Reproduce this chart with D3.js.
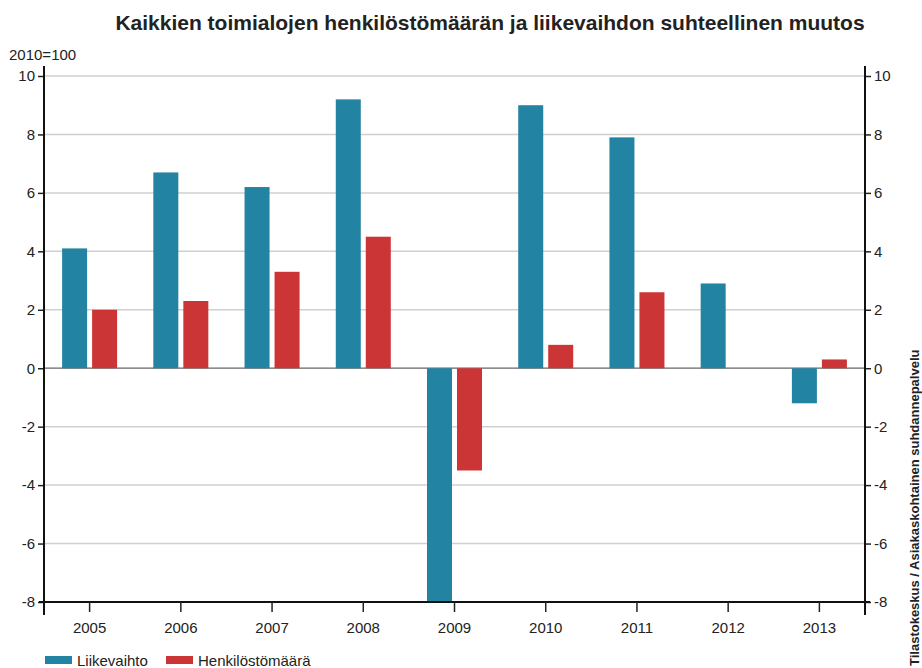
<!DOCTYPE html>
<html>
<head>
<meta charset="utf-8">
<script src="https://cdn.jsdelivr.net/npm/d3@7"></script>
<style>
  body { margin: 0; background: #fff; }
  text { font-family: "Liberation Sans", Arial, sans-serif; fill: #222; }
</style>
</head>
<body>
<div id="vis"></div>
<script>
// data
const years = ['2005', '2006', '2007', '2008', '2009', '2010', '2011', '2012', '2013'];
const liikevaihto = [4.1, 6.7, 6.2, 9.2, -8.0, 9.0, 7.9, 2.9, -1.2];
const henkilosto = [2.0, 2.3, 3.3, 4.5, -3.5, 0.8, 2.6, 0.0, 0.3];
const seriesNames = ['Liikevaihto', 'Henkilöstömäärä'];
const yTicks = [-8, -6, -4, -2, 0, 2, 4, 6, 8, 10];

const W = 922, H = 668;
let margin = { top: 76, left: 44, right: 57, bottom: 66 },
  width = W - margin.left - margin.right,
  height = H - margin.top - margin.bottom;

const svg = d3.select('#vis').append('svg')
  .attr('width', W).attr('height', H);

const colors = d3.scaleOrdinal().domain(seriesNames).range(['#2383a2', '#cc3535']);

const x = d3.scaleBand().domain(years).range([0, width]);
const y = d3.scaleLinear().domain([-8, 10]).range([height, 0]);

const g = svg.append('g').attr('transform', `translate(${margin.left},${margin.top})`);

// grid lines
g.append('g').selectAll('line').data(yTicks.filter(d => d !== -8)).join('line')
  .attr('x1', 0).attr('x2', width)
  .attr('y1', d => y(d)).attr('y2', d => y(d))
  .attr('stroke', d => d === 0 ? '#666' : '#d0d0d0')
  .attr('stroke-width', d => d === 0 ? 1.2 : 1.5);

// bars
const barW = 25, gap = 5;
const rows = years.map((yr, i) => ({ year: yr, vals: [liikevaihto[i], henkilosto[i]] }));
g.append('g').selectAll('g').data(rows).join('g')
  .attr('transform', d => `translate(${x(d.year) + x.bandwidth() / 2},0)`)
  .selectAll('rect')
  .data(d => d.vals.map((v, k) => ({ key: seriesNames[k], k: k, value: v })))
  .join('rect')
  .attr('x', d => d.k === 0 ? -(barW + gap / 2) : gap / 2)
  .attr('width', barW)
  .attr('y', d => y(Math.max(0, d.value)))
  .attr('height', d => Math.abs(y(d.value) - y(0)))
  .attr('fill', d => colors(d.key));

// axes (plain hyphen for negatives, like the original)
const fmt = d => String(d);
const leftAxis = g.append('g')
  .call(d3.axisLeft(y).tickValues(yTicks).tickFormat(fmt).tickSize(6).tickPadding(3));
const rightAxis = g.append('g').attr('transform', `translate(${width},0)`)
  .call(d3.axisRight(y).tickValues(yTicks).tickFormat(fmt).tickSize(6).tickPadding(3));
[leftAxis, rightAxis].forEach(a => {
  a.select('.domain').remove();
  a.selectAll('.tick line').attr('stroke', '#222').attr('stroke-width', 1.5);
  a.selectAll('text').style('font-size', '15px').attr('fill', '#222');
});
// vertical axis lines, slightly longer than the plot
g.append('line').attr('x1', 0).attr('x2', 0).attr('y1', -10).attr('y2', height + 13)
  .attr('stroke', '#111').attr('stroke-width', 2);
g.append('line').attr('x1', width).attr('x2', width).attr('y1', -10).attr('y2', height + 13)
  .attr('stroke', '#111').attr('stroke-width', 2);

// x axis at the bottom
const xAxis = g.append('g').attr('transform', `translate(0,${height})`)
  .call(d3.axisBottom(x).tickSize(10).tickPadding(10));
xAxis.select('.domain').attr('d', `M-5,0H${width + 5}`).attr('stroke', '#111').attr('stroke-width', 2);
xAxis.selectAll('.tick line').attr('stroke', '#222').attr('stroke-width', 1.5);
xAxis.selectAll('text').style('font-size', '15px').attr('fill', '#222');

// title
svg.append('text')
  .attr('x', 490).attr('y', 30)
  .attr('text-anchor', 'middle')
  .style('font-size', '21px').style('font-weight', 'bold')
  .text('Kaikkien toimialojen henkilöstömäärän ja liikevaihdon suhteellinen muutos');

// unit label
svg.append('text')
  .attr('x', 9).attr('y', 60)
  .style('font-size', '15px')
  .text('2010=100');

// source text, rotated
svg.append('g')
  .attr('transform', 'translate(919,666)')
  .append('text')
  .attr('transform', 'rotate(-90)')
  .style('font-size', '13px').style('font-weight', 'bold')
  .text('Tilastokeskus / Asiakaskohtainen suhdannepalvelu');

// legend
const legend = svg.selectAll('.legend').data(seriesNames).join('g')
  .attr('class', 'legend')
  .attr('transform', (d, i) => `translate(${45 + i * 121},655)`);
legend.append('rect')
  .attr('width', 27).attr('height', 8).attr('y', 1)
  .attr('fill', d => colors(d));
legend.append('text')
  .attr('x', 32).attr('y', 11)
  .style('font-size', '15px')
  .text(d => d);
</script>
</body>
</html>
